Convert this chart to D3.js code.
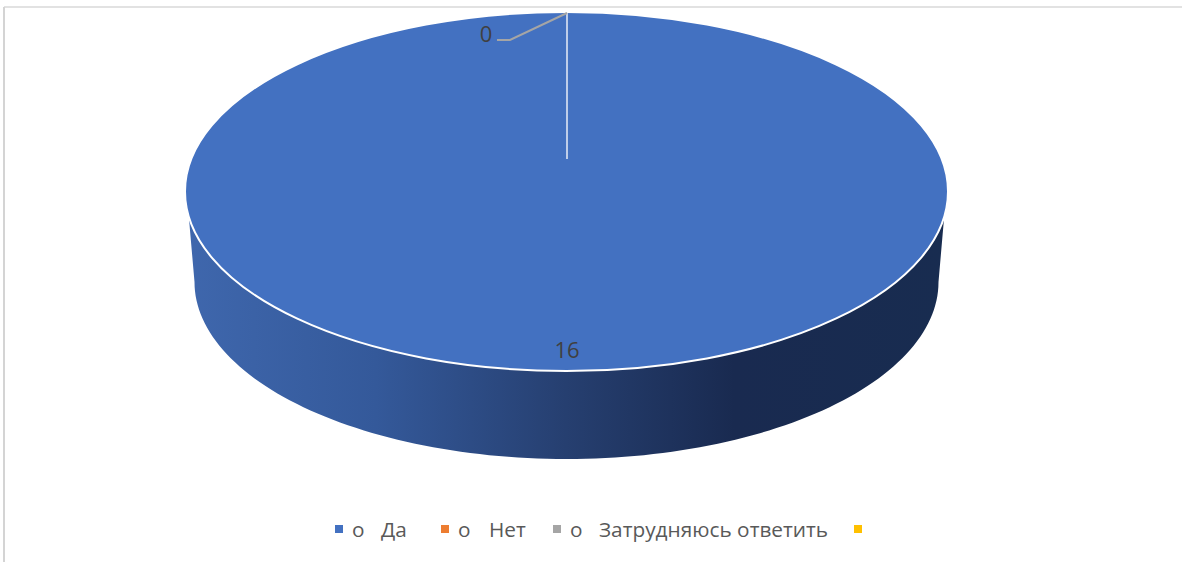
<!DOCTYPE html>
<html>
<head>
<meta charset="utf-8">
<script src="https://cdn.jsdelivr.net/npm/d3@7"></script>
<style>
  html, body { margin: 0; padding: 0; background: #fff; }
  svg { display: block; }
  text { font-family: "Open Sans", "Noto Sans", sans-serif; }
</style>
</head>
<body>
<svg width="1182" height="562"></svg>
<script>
// values
const categories = ['Да', 'Нет', 'Затрудняюсь ответить', ''];
const values = [16, 0, 0, 0];
const colors = ['#4371c1', '#ed7d31', '#a5a5a5', '#ffc000'];
const legendMark = 'o';

const width = 1182;
const height = 562;

// top face and bottom rim of the tilted pie
const top3d = { cx: 566.5, cy: 191.5, rx: 381.5, ry: 179.5, apexY: 159 };
const rim = { cx: 566.5, cy: 282, rx: 372, ry: 177 };
const wallStart = 0.142; // angle on the top face where the wall begins

const svg = d3.select('svg');

// chart frame, only top and left show up in the picture
svg.append('line').attr('x1', 4).attr('x2', width).attr('y1', 7).attr('y2', 7)
    .attr('stroke', '#e2e2e2').attr('stroke-width', 2);
svg.append('line').attr('x1', 4).attr('x2', 4).attr('y1', 7).attr('y2', height)
    .attr('stroke', '#d4d4d4').attr('stroke-width', 2);

// side wall shading
const grad = svg.append('defs').append('linearGradient')
    .attr('id', 'side')
    .attr('gradientUnits', 'userSpaceOnUse')
    .attr('x1', top3d.cx - top3d.rx).attr('x2', top3d.cx + top3d.rx)
    .attr('y1', 0).attr('y2', 0);
[[0, '#3f67ad'], [0.25, '#34599a'], [0.5, '#263f70'], [0.72, '#192a50'], [1, '#182c50']].forEach(s => {
    grad.append('stop').attr('offset', s[0]).attr('stop-color', s[1]);
});

// side wall outline: front half of the rim, closed against the top face
const rimPts = d3.range(0, Math.PI + 0.001, Math.PI / 120).map(t => [
    rim.cx + rim.rx * Math.cos(t),
    rim.cy + rim.ry * Math.sin(t)
]);
const topPts = d3.range(wallStart, Math.PI - wallStart + 0.001, (Math.PI - 2 * wallStart) / 120).map(t => [
    top3d.cx + top3d.rx * Math.cos(t),
    top3d.cy + top3d.ry * Math.sin(t)
]).reverse();

svg.append('path')
    .attr('d', d3.line()(rimPts.concat(topPts)) + 'Z')
    .attr('fill', 'url(#side)');

// top face from d3.pie
const pie = d3.pie().sort(null);
const arcs = pie(values);
const arc = d3.arc().innerRadius(0).outerRadius(top3d.rx);

svg.append('g')
    .attr('transform', `translate(${top3d.cx},${top3d.cy}) scale(1,${top3d.ry / top3d.rx})`)
    .selectAll('path')
    .data(arcs.filter(d => d.value > 0))
    .enter().append('path')
    .attr('d', arc)
    .attr('fill', (d, i) => colors[d.index])
    .attr('stroke', '#fff')
    .attr('stroke-width', 2)
    .attr('vector-effect', 'non-scaling-stroke');

// white seam where the empty slices sit
const seamAngle = arcs[1].startAngle % (2 * Math.PI);
svg.append('line')
    .attr('x1', top3d.cx + 0.5)
    .attr('x2', top3d.cx + 0.5 + top3d.rx * Math.sin(seamAngle))
    .attr('y1', top3d.apexY)
    .attr('y2', top3d.cy - top3d.ry * Math.cos(seamAngle))
    .attr('stroke', '#f4f6fb')
    .attr('stroke-width', 1.4);

// leader and data labels
svg.append('path')
    .attr('d', d3.line()([[567, 13], [510, 40], [497, 40]]))
    .attr('fill', 'none')
    .attr('stroke', '#a5a5a5')
    .attr('stroke-width', 2);

svg.append('text')
    .attr('x', 486).attr('y', 42)
    .attr('text-anchor', 'middle')
    .attr('font-size', 22)
    .attr('fill', '#404040')
    .text(values[1]);

svg.append('text')
    .attr('x', 567).attr('y', 358)
    .attr('text-anchor', 'middle')
    .attr('font-size', 22)
    .attr('fill', '#404040')
    .text(values[0]);

// legend
const legendX = [339, 445, 557, 858];
const labelX = [381, 489, 599, 0];
const legend = svg.append('g').selectAll('g')
    .data(categories)
    .enter().append('g');

legend.append('rect')
    .attr('x', (d, i) => legendX[i] - 4)
    .attr('y', 525)
    .attr('width', 8)
    .attr('height', 8)
    .attr('fill', (d, i) => colors[i]);

legend.filter(d => d !== '').append('text')
    .attr('x', (d, i) => legendX[i] + 13)
    .attr('y', 537)
    .attr('font-size', 20.8)
    .attr('fill', '#595959')
    .text(legendMark);

legend.filter(d => d !== '').append('text')
    .attr('x', (d, i) => labelX[i])
    .attr('y', 537)
    .attr('font-size', 20.8)
    .attr('fill', '#595959')
    .text(d => d);
</script>
</body>
</html>
